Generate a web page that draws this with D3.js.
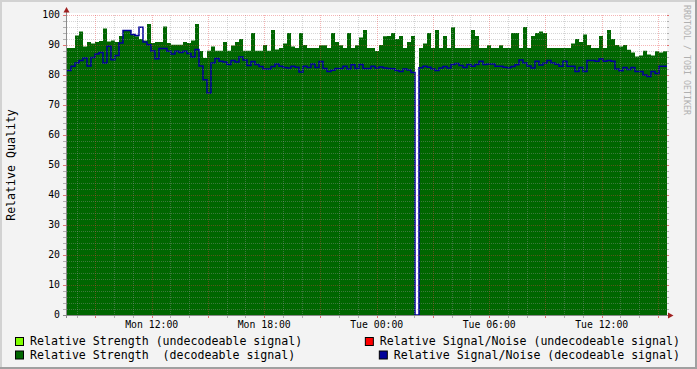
<!DOCTYPE html>
<html lang="en">
<head>
<meta charset="UTF-8">
<title>Relative Quality</title>
<script src="https://d3js.org/d3.v7.min.js"></script>
<style>
  body { margin: 0; background: #fff; }
  text { font-family: "DejaVu Sans Mono", monospace; fill: #000; }
</style>
</head>
<body>
<div id="chart"></div>
<script>
// one value per 12.8 minute step, Mon 07:29 -> Tue 15:29 (0 = no data)
const strength = [
  89, 89, 93.2, 94.5, 89.5, 91, 90.5, 91, 91.3, 95.5,
  91.2, 91.5, 91, 93, 94.8, 94.8, 93.4, 92.9, 92, 91.5,
  97, 90.7, 91, 91, 96.2, 90.7, 90.1, 90.1, 90.1, 91,
  90.7, 91.5, 97, 88, 85.7, 88.1, 89.5, 88.1, 88.1, 91,
  88.1, 89.8, 91, 92, 88.1, 88.1, 94, 88.1, 88.1, 90,
  88.1, 95, 88.5, 89, 90.5, 94, 89.5, 89, 94, 90,
  89, 89, 89, 89.9, 89.9, 89, 94, 91, 89.9, 89,
  94, 89, 89.9, 92.5, 95, 89, 89, 88, 90, 92.9,
  93, 94, 92, 93, 89, 91, 93, 0, 89, 90.5,
  94, 89, 95, 89, 93, 89, 95.9, 89, 89, 89,
  89, 95, 93, 89, 89, 89.9, 89, 89, 89.9, 89,
  89, 94, 94, 89, 96, 89, 93, 94, 94.5, 94,
  89, 89, 89, 89, 89, 89, 90.5, 92, 91, 93.5,
  90, 89, 89, 93, 89, 95, 92, 90, 89.5, 90,
  88.4, 87.5, 86.2, 86.5, 88.1, 86.8, 86.5, 87.9, 87.5, 87.9
];
const snr = [
  81.5, 82.9, 84, 84.8, 85.7, 83, 85.8, 87, 87.5, 84,
  89.6, 85.1, 86.5, 90.7, 94.8, 94.8, 93.5, 93.2, 95.9, 91,
  90.1, 88, 85.4, 88.8, 88.8, 87.9, 87, 87.9, 87.5, 87.9,
  87.2, 86, 88.5, 83, 78.4, 74, 84, 85.5, 84.6, 84.3,
  83.5, 84.8, 84.3, 86, 85, 83.2, 84.5, 83.5, 82.8, 82,
  82, 82.8, 83.7, 82.9, 82.5, 82.3, 82.9, 82.6, 81, 82.9,
  82.5, 83.7, 82.5, 84.5, 82.2, 81.2, 81.6, 82.2, 82.2, 82.9,
  82, 83.4, 82.2, 83.5, 82.2, 82.2, 82.9, 82.3, 82.7, 82.3,
  82.2, 82.1, 81.5, 81.2, 82, 81.7, 80.8, 0, 82.4, 82.9,
  82.6, 82, 81.5, 82.3, 82.8, 82.3, 83.5, 83.8, 83.2, 82.5,
  83.5, 82.9, 83.5, 84.6, 83.5, 83.7, 83.7, 82.9, 82.9, 82.6,
  82.4, 82.8, 83.4, 85, 84, 83, 82.3, 84.6, 83.3, 83.9,
  84.8, 84, 83.6, 82.9, 84.6, 82.9, 82.9, 81.2, 82.5, 81.2,
  84.8, 84.8, 84.6, 85.3, 84.6, 84.8, 84.6, 82, 81.4, 82.5,
  81.8, 82.5, 81.2, 81.2, 80, 79.5, 81.2, 80.5, 82.9, 82.9
];
const yTicks = [0, 10, 20, 30, 40, 50, 60, 70, 80, 90, 100];
const legendLabels = [
  "Relative Strength (undecodeable signal)",
  "Relative Signal/Noise (undecodeable signal)",
  "Relative Strength  (decodeable signal)",
  "Relative Signal/Noise (decodeable signal)"
];

const W = 697, H = 369;
const pLeft = 67, pRight = 667, pTop = 15, pBottom = 315;
const t0 = new Date(2009, 2, 2, 7, 29);
const t1 = new Date(t0.getTime() + 32 * 3600 * 1000);
const stepMs = (t1 - t0) / strength.length;

const svg = d3.select("#chart").append("svg")
  .attr("width", W).attr("height", H);

// background + frame
svg.append("rect").attr("width", W).attr("height", H).attr("fill", "#f3f3f3");
svg.append("rect").attr("x", 0).attr("y", 0).attr("width", W).attr("height", 2).attr("fill", "#d2d2d2");
svg.append("rect").attr("x", 0).attr("y", 0).attr("width", 2).attr("height", H).attr("fill", "#d2d2d2");
svg.append("rect").attr("x", 0).attr("y", H - 2).attr("width", W).attr("height", 2).attr("fill", "#a0a0a0");
svg.append("rect").attr("x", W - 2).attr("y", 0).attr("width", 2).attr("height", H).attr("fill", "#a0a0a0");

const x = d3.scaleTime().domain([t0, t1]).range([pLeft, pRight]);
const y = d3.scaleLinear().domain([0, 100]).range([pBottom, pTop]);

svg.append("rect").attr("x", pLeft).attr("y", pTop - 2)
  .attr("width", pRight - pLeft).attr("height", pBottom - pTop + 2).attr("fill", "#fff");

const toPts = arr => {
  const p = arr.map((v, i) => ({ t: new Date(t0.getTime() + i * stepMs), v }));
  p.push({ t: t1, v: arr[arr.length - 1] });
  return p;
};

svg.append("path")
  .datum(toPts(strength))
  .attr("fill", "#006600")
  .attr("d", d3.area().curve(d3.curveStepAfter)
    .x(d => x(d.t)).y0(y(0)).y1(d => y(d.v)));

svg.append("path")
  .datum(toPts(snr))
  .attr("fill", "none")
  .attr("stroke", "#000099")
  .attr("stroke-width", 1.5)
  .attr("d", d3.line().curve(d3.curveStepAfter)
    .x(d => x(d.t)).y(d => y(d.v)));

// grid on top of the data, rrdtool style
const minorCol = "rgba(150,150,150,0.4)";
const majorCol = "rgba(230,60,60,0.38)";
const g = svg.append("g").attr("stroke-dasharray", "1,1").attr("stroke-width", 1);

d3.range(0, 101, 2).filter(v => v % 10 !== 0).forEach(v => {
  g.append("line").attr("x1", pLeft).attr("x2", pRight)
    .attr("y1", Math.round(y(v)) + 0.5).attr("y2", Math.round(y(v)) + 0.5)
    .attr("stroke", minorCol);
});
x.ticks(d3.timeHour.every(1)).filter(d => d.getHours() % 3 !== 0).forEach(d => {
  g.append("line").attr("y1", pTop).attr("y2", pBottom)
    .attr("x1", Math.round(x(d)) + 0.5).attr("x2", Math.round(x(d)) + 0.5)
    .attr("stroke", minorCol);
});
yTicks.filter(v => v > 0).forEach(v => {
  g.append("line").attr("x1", pLeft).attr("x2", pRight)
    .attr("y1", Math.round(y(v)) + 0.5).attr("y2", Math.round(y(v)) + 0.5)
    .attr("stroke", majorCol);
});
x.ticks(d3.timeHour.every(3)).forEach(d => {
  g.append("line").attr("y1", pTop).attr("y2", pBottom)
    .attr("x1", Math.round(x(d)) + 0.5).attr("x2", Math.round(x(d)) + 0.5)
    .attr("stroke", majorCol);
});

// small ticks on the axes
const tk = svg.append("g").attr("stroke-width", 1);
d3.range(0, 101, 2).forEach(v => {
  const yy = Math.round(y(v)) + 0.5;
  const c = v % 10 === 0 ? "#e07070" : "#b0b0b0";
  tk.append("line").attr("x1", 63).attr("x2", 66).attr("y1", yy).attr("y2", yy).attr("stroke", c);
  tk.append("line").attr("x1", pRight).attr("x2", pRight + 2).attr("y1", yy).attr("y2", yy).attr("stroke", c);
});
x.ticks(d3.timeHour.every(1)).forEach(d => {
  const xx = Math.round(x(d)) + 0.5;
  const c = d.getHours() % 3 === 0 ? "#e07070" : "#b0b0b0";
  tk.append("line").attr("x1", xx).attr("x2", xx).attr("y1", pBottom).attr("y2", pBottom + 3).attr("stroke", c);
});

// axis lines and arrows
svg.append("line").attr("x1", 66.5).attr("x2", 66.5).attr("y1", 12).attr("y2", 318)
  .attr("stroke", "#8a8a8a");
svg.append("line").attr("x1", 63).attr("x2", 670).attr("y1", 315.5).attr("y2", 315.5)
  .attr("stroke", "#8a8a8a");
svg.append("path").attr("d", "M63.5,12.5 L69.5,12.5 L66.5,7 Z").attr("fill", "#a02020");
svg.append("path").attr("d", "M668,312.5 L668,318.5 L673.5,315.5 Z").attr("fill", "#a02020");

// tick labels
svg.append("g").selectAll("text").data(yTicks).join("text")
  .attr("x", 60).attr("y", d => y(d)).attr("dy", "0.35em")
  .attr("text-anchor", "end").style("font-size", "9.8px")
  .text(d => d);

svg.append("g").selectAll("text").data(x.ticks(d3.timeHour.every(6))).join("text")
  .attr("x", d => x(d)).attr("y", 327.5)
  .attr("text-anchor", "middle").style("font-size", "9.8px")
  .text(d3.timeFormat("%a %H:%M"));

svg.append("text")
  .attr("transform", "translate(15,165) rotate(-90)")
  .attr("text-anchor", "middle").style("font-size", "11.6px")
  .text("Relative Quality");

svg.append("text")
  .attr("transform", "translate(684,5) rotate(90)")
  .style("font-size", "8.3px").style("fill", "#b0b0b0")
  .text("RRDTOOL / TOBI OETIKER");

// legend
const legendColors = ["#80ff00", "#ff0000", "#006600", "#000099"];
legendLabels.forEach((lab, i) => {
  const row = Math.floor(i / 2), col = i % 2;
  const by = 345 + row * 13.5;
  const t = svg.append("text")
    .attr("y", by).style("font-size", "11.6px").style("white-space", "pre")
    .text(lab);
  let tx;
  if (col === 0) {
    tx = 30;
    t.attr("x", tx);
  } else {
    t.attr("x", 680).attr("text-anchor", "end");
    tx = 680 - t.node().getComputedTextLength();
  }
  svg.append("rect")
    .attr("x", tx - 14.5).attr("y", by - 7.5)
    .attr("width", 8).attr("height", 8)
    .attr("fill", legendColors[i]).attr("stroke", "#000").attr("stroke-width", 1);
});
</script>
</body>
</html>
